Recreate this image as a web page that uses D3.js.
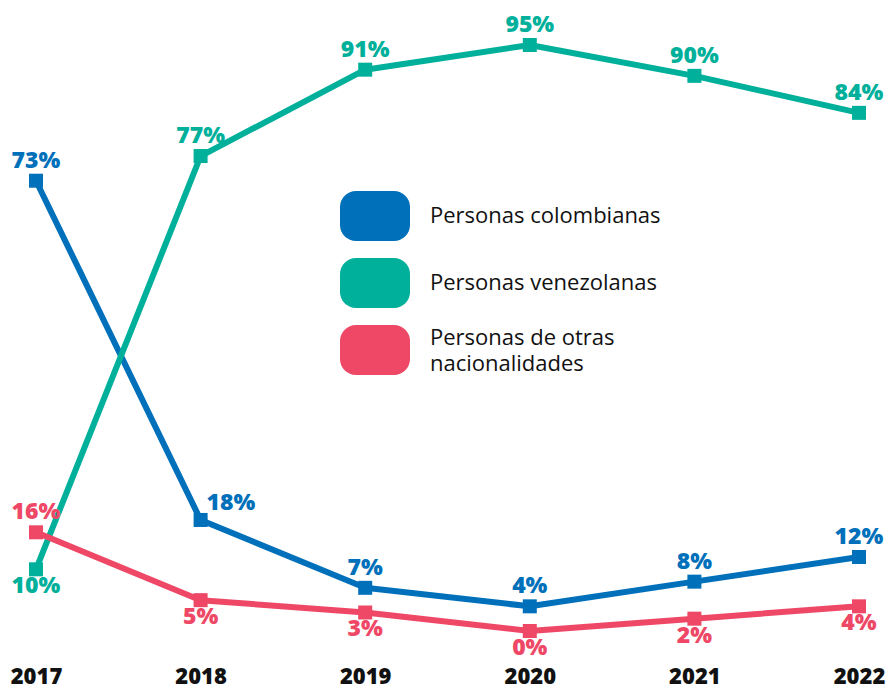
<!DOCTYPE html>
<html>
<head>
<meta charset="utf-8">
<script src="https://cdn.jsdelivr.net/npm/d3@7"></script>
<style>
    body { margin: 0; background: #fff; }
    svg text { font-family: "Open Sans", "Lato", sans-serif; }
</style>
</head>
<body>
<svg id="chart" width="891" height="689"></svg>
<script>
var years = ["2017", "2018", "2019", "2020", "2021", "2022"];
var colombianas = [73, 18, 7, 4, 8, 12];
var venezolanas = [10, 77, 91, 95, 90, 84];
var otras = [16, 5, 3, 0, 2, 4];
var legendLabels = [["Personas colombianas"], ["Personas venezolanas"], ["Personas de otras", "nacionalidades"]];

var colors = ["#0070ba", "#00b09b", "#ee4866"];
// label placement for each point: above / below / right
var labelPos = [
    ["above", "right", "above", "above", "above", "above"],
    ["below", "above", "above", "above", "above", "above"],
    ["above", "below", "below", "below", "below", "below"]
];

var svg = d3.select("#chart");

var x = d3.scalePoint()
    .domain(years)
    .range([36, 859]);

var y = d3.scaleLinear()
    .domain([0, 95])
    .range([631, 45]);

var series = [colombianas, venezolanas, otras];

var line = d3.line()
    .x(function (d, i) { return x(years[i]); })
    .y(function (d) { return y(d); });

// Year axis
var axis = svg.append("g")
    .attr("transform", "translate(0,684)")
    .call(d3.axisBottom(x).tickSize(0).tickPadding(0));
axis.select(".domain").remove();
axis.selectAll("text")
    .attr("dy", 0)
    .attr("font-size", 22)
    .attr("font-weight", 800)
    .attr("fill", "#111")
    .style("font-family", "'Open Sans', sans-serif");

// Lines and markers
series.forEach(function (values, s) {
    var g = svg.append("g");

    g.append("path")
        .datum(values)
        .attr("fill", "none")
        .attr("stroke", colors[s])
        .attr("stroke-width", 6)
        .attr("stroke-linejoin", "round")
        .attr("d", line);

    g.selectAll("rect")
        .data(values)
        .enter()
        .append("rect")
        .attr("x", function (d, i) { return x(years[i]) - 7; })
        .attr("y", function (d) { return y(d) - 7; })
        .attr("width", 14)
        .attr("height", 14)
        .attr("fill", colors[s]);
});

// Value labels (drawn after all lines so they sit on top)
series.forEach(function (values, s) {
    svg.append("g").selectAll("text")
        .data(values)
        .enter()
        .append("text")
        .attr("x", function (d, i) {
            return labelPos[s][i] == "right" ? x(years[i]) + 6 : x(years[i]);
        })
        .attr("y", function (d, i) {
            var p = labelPos[s][i];
            if (p == "above") return y(d) - 13;
            if (p == "below") return y(d) + 24;
            return y(d) - 10;
        })
        .attr("text-anchor", function (d, i) { return labelPos[s][i] == "right" ? "start" : "middle"; })
        .attr("font-size", 23)
        .attr("font-weight", 800)
        .attr("fill", colors[s])
        .text(function (d) { return d + "%"; });
});

// Legend
var legend = svg.append("g")
    .selectAll("g")
    .data(legendLabels)
    .enter()
    .append("g")
    .attr("transform", function (d, i) { return "translate(340," + (191 + i * 67) + ")"; });

legend.append("rect")
    .attr("width", 70)
    .attr("height", 50)
    .attr("rx", 16)
    .attr("fill", function (d, i) { return colors[i]; });

// one text per line so the two-line label keeps tight spacing
legend.each(function (d) {
    var top = d.length > 1 ? 20 : 32;
    d3.select(this).selectAll("text")
        .data(d)
        .enter()
        .append("text")
        .attr("x", 90)
        .attr("y", function (t, i) { return top + i * 26; })
        .attr("font-size", 22)
        .attr("fill", "#111")
        .text(function (t) { return t; });
});
</script>
</body>
</html>
